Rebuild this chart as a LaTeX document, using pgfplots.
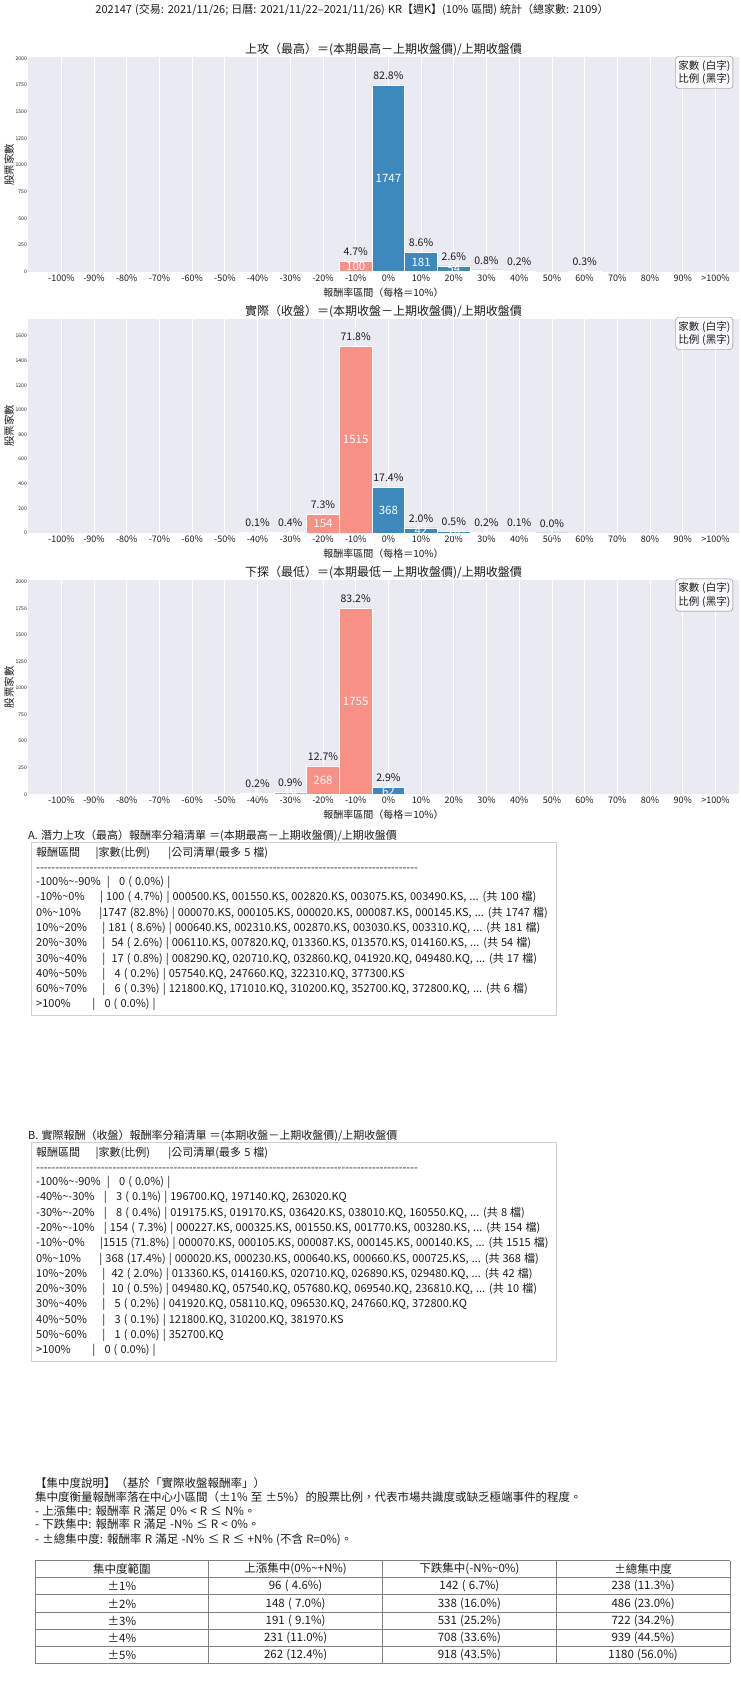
\documentclass[border=0pt]{standalone}
\usepackage{fontspec}
\setmainfont{Noto Sans CJK TC}[WordSpace=1.25]
\usepackage{pgfplots}
\pgfplotsset{compat=1.18}
\usepackage{pgfplotstable}

\definecolor{bg}{HTML}{EAEAF2}
\definecolor{barblue}{HTML}{3D88BD}
\definecolor{barsal}{HTML}{F89085}
\definecolor{txt}{HTML}{1A1A1A}
\definecolor{boxline}{HTML}{CFCFCF}
\definecolor{tabline}{HTML}{808080}

\newcommand\tl{\textasciitilde{}}
\newcommand\tb{\fontsize{11.5}{15.3}\selectfont}
\newcommand\lb{\fontsize{11}{15.3}\selectfont}
\newcount\dcnt
\newcommand\dashline{\dcnt=0 \loop-\kern0pt\advance\dcnt1 \ifnum\dcnt<100 \repeat}

% bins: 0 = -100%, 9 = -10%, 10 = 0%, 19 = 90%, 20 = >100%
\pgfplotstableread{
x y pct
9 100 4.7
10 1747 82.8
11 181 8.6
12 54 2.6
13 17 0.8
14 4 0.2
16 6 0.3
}\dA
\pgfplotstableread{
x y pct
6 3 0.1
7 8 0.4
8 154 7.3
9 1515 71.8
10 368 17.4
11 42 2.0
12 10 0.5
13 5 0.2
14 3 0.1
15 1 0.0
}\dB
\pgfplotstableread{
x y pct
6 5 0.2
7 19 0.9
8 268 12.7
9 1755 83.2
10 62 2.9
}\dC

\pgfplotsset{
  histax/.style={
    scale only axis, width=711pt, height=214.4pt, anchor=south west,
    xmin=-1.02, xmax=20.72, ymin=0,
    xtick={0,...,20},
    xticklabels={-100\%,-90\%,-80\%,-70\%,-60\%,-50\%,-40\%,-30\%,-20\%,-10\%,0\%,10\%,20\%,30\%,40\%,50\%,60\%,70\%,80\%,90\%,>100\%},
    axis background/.style={fill=bg},
    axis line style={draw=none},
    major tick length=0pt,
    xmajorgrids=true,
    major grid style={white, line width=0.8pt},
    xticklabel style={font=\fontsize{9}{10}\selectfont, text=txt, inner sep=2.5pt},
    yticklabel style={font=\fontsize{5}{6}\selectfont, text=txt, inner sep=1pt},
    /pgf/number format/assume math mode=true,
    /pgf/number format/1000 sep={},
    scaled y ticks=false,
    clip=false,
  },
  bars/.style={ybar, bar width=1, bar shift=0pt, draw=white, line width=0.6pt},
  lbl/.style={only marks, mark=none, point meta=explicit symbolic},
}

\newcommand\hist[4]{%
\begin{axis}[histax, at={(28pt,-#1pt)}, ymax=#3, ytick={#4}]
\addplot[bars, fill=barsal, restrict x to domain=-1:9.5] table[x=x, y=y]{#2};
\addplot[bars, fill=barblue, restrict x to domain=9.5:21] table[x=x, y=y]{#2};
\addplot[lbl, nodes near coords={\pgfplotspointmeta\%},
  every node near coord/.append style={anchor=south, inner sep=0pt, yshift=5.5pt,
    font=\fontsize{10.5}{12}\selectfont, text=txt}]
  table[x=x, y=y, meta=pct]{#2};
\addplot[lbl, nodes near coords={\pgfplotspointmeta},
  every node near coord/.append style={anchor=center, inner sep=0pt,
    font=\fontsize{11.5}{13}\selectfont, text=white}]
  table[x=x, y expr=\thisrow{y}/2, meta=y]{#2};
\end{axis}}

\begin{document}
\begin{tikzpicture}
\path[use as bounding box] (0,0) rectangle (740pt,-1690pt);

\hist{271.7}{\dA}{2009}{0,250,...,2000}
\hist{533.0}{\dB}{1742}{0,200,...,1600}
\hist{794.3}{\dC}{2018}{0,250,...,2000}

\begin{scope}[x=1pt, y=-1pt, every node/.style={text=txt}]
\tikzset{R/.style={anchor=base west, inner sep=0pt, font=\lb}}
% titles
\node[font=\fontsize{11}{13}\selectfont] at (352,9.5)
  {202147 (交易: 2021/11/26; 日曆: 2021/11/22–2021/11/26) KR【週K】(10\% 區間) 統計（總家數: 2109）};
\foreach \yt/\yl/\yc/\t in {50/292.7/164.5/{上攻（最高）＝(本期最高－上期收盤價)/上期收盤價},
                          311.7/554/425.7/{實際（收盤）＝(本期收盤－上期收盤價)/上期收盤價},
                          572.7/815/687.2/{下探（最低）＝(本期最低－上期收盤價)/上期收盤價}}{
  \node[font=\fontsize{12}{14}\selectfont] at (383.5,\yt) {\t};
  \node[font=\fontsize{10}{12}\selectfont] at (383.5,\yl) {報酬率區間（每格＝10\%）};
  \node[font=\fontsize{10.5}{12}\selectfont, rotate=90] at (9,\yc) {股票家數};
}
\foreach \yb in {56, 317, 578.7}{
  \node[anchor=north east, draw=gray, rounded corners=3pt, fill=white, fill opacity=0.8,
    text opacity=1, align=left, inner xsep=2.5pt, inner ysep=4pt, font=\fontsize{10.5}{13.3}\selectfont]
    at (733,\yb) {家數 (白字)\\比例 (黑字)};
}

% A
\node[R] at (28,839) {A. 潛力上攻（最高）報酬率分箱清單 ＝(本期最高－上期收盤價)/上期收盤價};
\draw[boxline, line width=0.8pt] (31,842) rectangle (556,1015);
\node[R] at (36,856) {報酬區間\ \ \ \ \ |家數(比例)\ \ \ \ \ \ |公司清單(最多 5 檔)};
\node[R] at (36,871) {\dashline};
\node[R] at (36,885.5) {-100\%\tl-90\%\ \ |\ \ \ 0 (\ 0.0\%) |};
\node[R] at (36,900.8) {-10\%\tl 0\%\ \ \ \ \ |\ 100 (\ 4.7\%) | 000500.KS, 001550.KS, 002820.KS, 003075.KS, 003490.KS, ... (共 100 檔)};
\node[R] at (36,916.1) {0\%\tl 10\%\ \ \ \ \ \ |1747 (82.8\%) | 000070.KS, 000105.KS, 000020.KS, 000087.KS, 000145.KS, ... (共 1747 檔)};
\node[R] at (36,931.4) {10\%\tl 20\%\ \ \ \ \ |\ 181 (\ 8.6\%) | 000640.KS, 002310.KS, 002870.KS, 003030.KS, 003310.KQ, ... (共 181 檔)};
\node[R] at (36,946.7) {20\%\tl 30\%\ \ \ \ \ |\ \ 54 (\ 2.6\%) | 006110.KS, 007820.KQ, 013360.KS, 013570.KS, 014160.KS, ... (共 54 檔)};
\node[R] at (36,962.0) {30\%\tl 40\%\ \ \ \ \ |\ \ 17 (\ 0.8\%) | 008290.KQ, 020710.KQ, 032860.KQ, 041920.KQ, 049480.KQ, ... (共 17 檔)};
\node[R] at (36,977.3) {40\%\tl 50\%\ \ \ \ \ |\ \ \ 4 (\ 0.2\%) | 057540.KQ, 247660.KQ, 322310.KQ, 377300.KS};
\node[R] at (36,992.6) {60\%\tl 70\%\ \ \ \ \ |\ \ \ 6 (\ 0.3\%) | 121800.KQ, 171010.KQ, 310200.KQ, 352700.KQ, 372800.KQ, ... (共 6 檔)};
\node[R] at (36,1007.9) {>100\%\ \ \ \ \ \ \ |\ \ \ 0 (\ 0.0\%) |};

% B
\node[R] at (28,1139) {B. 實際報酬（收盤）報酬率分箱清單 ＝(本期收盤－上期收盤價)/上期收盤價};
\draw[boxline, line width=0.8pt] (31,1142) rectangle (556,1361);
\node[R] at (36,1156) {報酬區間\ \ \ \ \ |家數(比例)\ \ \ \ \ \ |公司清單(最多 5 檔)};
\node[R] at (36,1171) {\dashline};
\node[R] at (36,1185.5) {-100\%\tl-90\%\ \ |\ \ \ 0 (\ 0.0\%) |};
\node[R] at (36,1200.8) {-40\%\tl-30\%\ \ \ |\ \ \ 3 (\ 0.1\%) | 196700.KQ, 197140.KQ, 263020.KQ};
\node[R] at (36,1216.1) {-30\%\tl-20\%\ \ \ |\ \ \ 8 (\ 0.4\%) | 019175.KS, 019170.KS, 036420.KS, 038010.KQ, 160550.KQ, ... (共 8 檔)};
\node[R] at (36,1231.4) {-20\%\tl-10\%\ \ \ |\ 154 (\ 7.3\%) | 000227.KS, 000325.KS, 001550.KS, 001770.KS, 003280.KS, ... (共 154 檔)};
\node[R] at (36,1246.7) {-10\%\tl 0\%\ \ \ \ \ |1515 (71.8\%) | 000070.KS, 000105.KS, 000087.KS, 000145.KS, 000140.KS, ... (共 1515 檔)};
\node[R] at (36,1262.0) {0\%\tl 10\%\ \ \ \ \ \ |\ 368 (17.4\%) | 000020.KS, 000230.KS, 000640.KS, 000660.KS, 000725.KS, ... (共 368 檔)};
\node[R] at (36,1277.3) {10\%\tl 20\%\ \ \ \ \ |\ \ 42 (\ 2.0\%) | 013360.KS, 014160.KS, 020710.KQ, 026890.KS, 029480.KQ, ... (共 42 檔)};
\node[R] at (36,1292.6) {20\%\tl 30\%\ \ \ \ \ |\ \ 10 (\ 0.5\%) | 049480.KQ, 057540.KQ, 057680.KQ, 069540.KQ, 236810.KQ, ... (共 10 檔)};
\node[R] at (36,1307.9) {30\%\tl 40\%\ \ \ \ \ |\ \ \ 5 (\ 0.2\%) | 041920.KQ, 058110.KQ, 096530.KQ, 247660.KQ, 372800.KQ};
\node[R] at (36,1323.2) {40\%\tl 50\%\ \ \ \ \ |\ \ \ 3 (\ 0.1\%) | 121800.KQ, 310200.KQ, 381970.KS};
\node[R] at (36,1338.5) {50\%\tl 60\%\ \ \ \ \ |\ \ \ 1 (\ 0.0\%) | 352700.KQ};
\node[R] at (36,1353.8) {>100\%\ \ \ \ \ \ \ |\ \ \ 0 (\ 0.0\%) |};

% concentration
\tikzset{R/.style={anchor=base west, inner sep=0pt, font=\tb}}
\node[R] at (35,1487.5) {【集中度說明】（基於「實際收盤報酬率」）};
\node[R] at (35,1501.2) {集中度衡量報酬率落在中心小區間（±1\% 至 ±5\%）的股票比例，代表市場共識度或缺乏極端事件的程度。};
\node[R] at (35,1515) {- 上漲集中: 報酬率 R 滿足 0\% < R ≤ N\%。};
\node[R] at (35,1528.5) {- 下跌集中: 報酬率 R 滿足 -N\% ≤ R < 0\%。};
\node[R] at (35,1543) {- ±總集中度: 報酬率 R 滿足 -N\% ≤ R ≤ +N\% (不含 R=0\%)。};

\foreach \k in {0,...,6}{\draw[tabline, line width=0.9pt] (35,1560.7+17.1*\k) -- (730,1560.7+17.1*\k);}
\foreach \j in {0,...,4}{\draw[tabline, line width=0.9pt] (35+173.75*\j,1560.7) -- (35+173.75*\j,1663.3);}
\foreach \r/\a/\b/\c/\d [count=\k from 0] in {
  集中度範圍/上漲集中(0\%\tl+N\%)/下跌集中(-N\%\tl 0\%)/±總集中度,
  ±1\%/96 (\ 4.6\%)/142 (\ 6.7\%)/238 (11.3\%),
  ±2\%/148 (\ 7.0\%)/338 (16.0\%)/486 (23.0\%),
  ±3\%/191 (\ 9.1\%)/531 (25.2\%)/722 (34.2\%),
  ±4\%/231 (11.0\%)/708 (33.6\%)/939 (44.5\%),
  ±5\%/262 (12.4\%)/918 (43.5\%)/1180 (56.0\%)}{
  \node[font=\tb, inner sep=0pt] at (121.9,1569.25+17.1*\k) {\r};
  \node[font=\tb, inner sep=0pt] at (295.6,1569.25+17.1*\k) {\a};
  \node[font=\tb, inner sep=0pt] at (469.4,1569.25+17.1*\k) {\b};
  \node[font=\tb, inner sep=0pt] at (643.1,1569.25+17.1*\k) {\c};
}
\end{scope}
\end{tikzpicture}
\end{document}
